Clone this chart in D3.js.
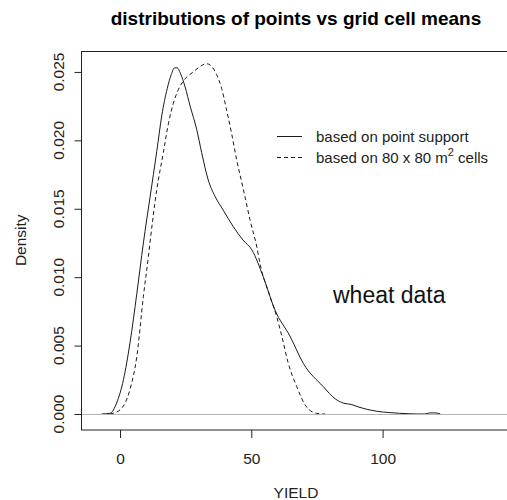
<!DOCTYPE html>
<html>
<head>
<meta charset="utf-8">
<script src="https://cdn.jsdelivr.net/npm/d3@7"></script>
<style>
  html, body { margin: 0; padding: 0; background: #fff; }
  svg { display: block; }
  text { font-family: "Liberation Sans", Arial, Helvetica, sans-serif; }
</style>
</head>
<body>
<svg id="chart" width="507" height="500"></svg>
<script>
// ---- data ----
const title = "distributions of points vs grid cell means";
const xLabel = "YIELD";
const yLabel = "Density";
const xTicks = [0, 50, 100];
const yTicks = [0, 0.005, 0.010, 0.015, 0.020, 0.025];
const yTickLabels = ["0.000", "0.005", "0.010", "0.015", "0.020", "0.025"];
const legendLabels = ["based on point support", "based on 80 x 80 m", "2", " cells"];
const annotation = "wheat data";

// point support density (solid)
const pointX = [-7, -3.8, -1.3, 1.3, 3.8, 6.4, 8.9, 11.4, 14.0, 15.9, 18.0, 19.5, 20.8, 21.8, 23.0, 24.8, 26.7, 29.2, 31.1, 33.6, 36.2, 39.3, 43.1, 46.9, 50.2, 54.6, 59.0, 64.7, 69.8, 77.4, 82.0, 85.0, 88.0, 91.0, 97.8, 102.8, 110, 113, 116, 118, 120, 122];
const pointY = [0, 0.00005, 0.0008, 0.0025, 0.0052, 0.0088, 0.0125, 0.0158, 0.0192, 0.0218, 0.0238, 0.0248, 0.0253, 0.0253, 0.0249, 0.0239, 0.0225, 0.0208, 0.0191, 0.0171, 0.0159, 0.0149, 0.0137, 0.0127, 0.0120, 0.0100, 0.0076, 0.0057, 0.0037, 0.0020, 0.0011, 0.0008, 0.0007, 0.0005, 0.0002, 0.0001, 0.00002, 0, 0, 0.00008, 0.00008, 0];

// 80 x 80 m^2 cell means density (dashed)
const cellX = [-3.8, 0, 3.8, 6.4, 8.9, 10.8, 11.4, 14.0, 16.5, 18.4, 20.3, 22.2, 24.8, 27.9, 30.5, 33.0, 34.9, 36.8, 38.7, 40.6, 42.5, 44.4, 47.0, 49.5, 52.1, 53.3, 57.1, 59.7, 61.6, 64.1, 67.3, 71.1, 74.9, 78.1];
const cellY = [0, 0.0003, 0.0018, 0.0042, 0.0086, 0.0115, 0.0125, 0.0164, 0.0191, 0.0212, 0.0227, 0.0237, 0.0245, 0.0250, 0.0254, 0.0256, 0.0254, 0.0248, 0.0238, 0.0222, 0.0205, 0.0186, 0.0164, 0.0142, 0.0122, 0.0110, 0.0086, 0.0071, 0.0057, 0.0037, 0.0020, 0.0005, 0.00005, 0];

// ---- layout ----
const plot = { left: 81, right: 511, top: 51, bottom: 429.5 };

const svg = d3.select("#chart");

const x = d3.scaleLinear().domain([-14.86, 148.9]).range([plot.left, plot.right]);
const y = d3.scaleLinear().domain([-0.001133, 0.02653]).range([plot.bottom, plot.top]);

const pointData = pointX.map((v, i) => [v, pointY[i]]);
const cellData = cellX.map((v, i) => [v, cellY[i]]);

const line = d3.line().x(d => x(d[0])).y(d => y(d[1])).curve(d3.curveMonotoneX);

const g = svg.append("g");

g.append("path").datum(pointData)
  .attr("d", line).attr("fill", "none")
  .attr("stroke", "#1a1a1a").attr("stroke-width", 1);

g.append("path").datum(cellData)
  .attr("d", line).attr("fill", "none")
  .attr("stroke", "#1a1a1a").attr("stroke-width", 1)
  .attr("stroke-dasharray", "4,3");

// zero line
g.append("line")
  .attr("x1", plot.left).attr("x2", plot.right)
  .attr("y1", Math.round(y(0)) + 0.5).attr("y2", Math.round(y(0)) + 0.5)
  .attr("stroke", "#b4b4b4").attr("stroke-width", 1);

// box
g.append("rect")
  .attr("x", plot.left + 0.5).attr("y", plot.top + 0.5)
  .attr("width", plot.right - plot.left).attr("height", plot.bottom - plot.top)
  .attr("fill", "none").attr("stroke", "#222").attr("stroke-width", 1);

// y axis
const yAxis = d3.axisLeft(y).tickValues(yTicks).tickSize(7).tickSizeOuter(0)
  .tickFormat((d, i) => yTickLabels[i]);
const ya = svg.append("g").attr("transform", `translate(${plot.left + 0.5},0)`).call(yAxis);
ya.select(".domain").remove();
ya.selectAll("line").attr("stroke", "#222");
ya.selectAll(".tick").attr("transform", "translate(0,0)");
ya.selectAll(".tick line").attr("y1", d => y(d) + 0.5).attr("y2", d => y(d) + 0.5);
ya.selectAll(".tick text")
  .attr("x", null).attr("y", null).attr("dx", null).attr("dy", null)
  .attr("transform", d => `translate(-18,${y(d)}) rotate(-90)`)
  .attr("text-anchor", "middle")
  .attr("font-size", 15.5)
  .attr("fill", "#222");

// x axis
const xAxis = d3.axisBottom(x).tickValues(xTicks).tickSize(8).tickSizeOuter(0);
const xa = svg.append("g").attr("transform", `translate(0,${plot.bottom + 0.5})`).call(xAxis);
xa.select(".domain").remove();
xa.selectAll("line").attr("stroke", "#222");
xa.selectAll("text")
  .attr("y", 33.5).attr("dy", null)
  .attr("font-size", 15.5)
  .attr("fill", "#222");

// title
svg.append("text")
  .attr("x", (plot.left + plot.right) / 2).attr("y", 25)
  .attr("text-anchor", "middle")
  .attr("font-size", 19).attr("font-weight", "bold")
  .attr("fill", "#000")
  .text(title);

// axis labels
svg.append("text")
  .attr("x", (plot.left + plot.right) / 2).attr("y", 498)
  .attr("text-anchor", "middle").attr("font-size", 15.5).attr("fill", "#222")
  .text(xLabel);

svg.append("text")
  .attr("transform", `translate(26,${(plot.top + plot.bottom) / 2}) rotate(-90)`)
  .attr("text-anchor", "middle").attr("font-size", 15.5).attr("fill", "#222")
  .text(yLabel);

// legend
const lg = svg.append("g");
lg.append("line").attr("x1", 277).attr("x2", 302).attr("y1", 136.5).attr("y2", 136.5)
  .attr("stroke", "#1a1a1a").attr("stroke-width", 1);
lg.append("text").attr("x", 316).attr("y", 141.5).attr("font-size", 15).attr("fill", "#222")
  .text(legendLabels[0]);
lg.append("line").attr("x1", 277).attr("x2", 302).attr("y1", 157.5).attr("y2", 157.5)
  .attr("stroke", "#1a1a1a").attr("stroke-width", 1).attr("stroke-dasharray", "4,3");
const t2 = lg.append("text").attr("x", 316).attr("y", 162.5).attr("font-size", 15).attr("fill", "#222");
t2.append("tspan").text(legendLabels[1]);
t2.append("tspan").attr("dy", -7).attr("font-size", 11).text(legendLabels[2]);
t2.append("tspan").attr("dy", 7).text(legendLabels[3]);

// annotation
svg.append("text").attr("x", 333).attr("y", 303).attr("font-size", 23).attr("fill", "#111")
  .text(annotation);
</script>
</body>
</html>
